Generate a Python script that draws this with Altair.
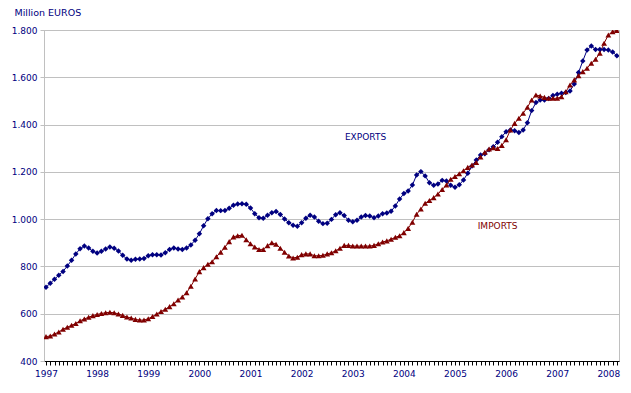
import altair as alt
import pandas as pd

first_year = 1997
years = list(range(1997, 2009))
y_ticks = [400, 600, 800, 1000, 1200, 1400, 1600, 1800]

exports = [
    712, 729, 746, 763, 779, 802, 826, 853, 875, 886, 878, 864,
    857, 864, 874, 882, 877, 865, 847, 831, 826, 830, 831, 834,
    845, 849, 849, 848, 858, 872, 878, 874, 872, 878, 891, 911,
    938, 972, 1002, 1023, 1037, 1036, 1037, 1046, 1059, 1064, 1065, 1063,
    1047, 1023, 1006, 1004, 1016, 1027, 1032, 1020, 1001, 985, 974, 970,
    985, 1004, 1016, 1009, 991, 981, 983, 999, 1019, 1027, 1015, 995,
    989, 995, 1009, 1015, 1013, 1006, 1013, 1023, 1026, 1033, 1056, 1085,
    1108, 1119, 1144, 1187, 1201, 1183, 1154, 1143, 1149, 1164, 1161, 1143,
    1135, 1145, 1166, 1194, 1225, 1250, 1271, 1277, 1293, 1306, 1325, 1349,
    1370, 1377, 1374, 1366, 1377, 1408, 1459, 1493, 1504, 1504, 1510, 1523,
    1528, 1533, 1536, 1542, 1572, 1620, 1669, 1715, 1732, 1718, 1718, 1718,
    1715, 1707, 1691,
]

imports = [
    503, 506, 514, 523, 534, 543, 551, 559, 570, 578, 585, 592,
    597, 601, 604, 606, 604, 599, 593, 586, 582, 576, 573, 573,
    579, 588, 599, 609, 619, 630, 642, 658, 671, 689, 716, 747,
    778, 795, 809, 820, 841, 860, 881, 905, 925, 930, 932, 913,
    896, 882, 872, 872, 888, 900, 894, 877, 860, 844, 836, 839,
    850, 853, 853, 845, 845, 847, 853, 858, 866, 877, 889, 889,
    886, 886, 886, 886, 886, 889, 896, 903, 908, 915, 923, 930,
    943, 961, 987, 1021, 1043, 1067, 1079, 1091, 1106, 1125, 1144, 1169,
    1180, 1192, 1205, 1219, 1229, 1240, 1263, 1283, 1297, 1302, 1299, 1312,
    1336, 1377, 1405, 1427, 1448, 1473, 1504, 1525, 1521, 1515, 1511, 1511,
    1511, 1518, 1539, 1567, 1589, 1607, 1624, 1638, 1659, 1676, 1702, 1744,
    1779, 1793, 1798,
]

series_names = ["EXPORTS", "IMPORTS"]
series_colors = ["#000080", "#800000"]
series_shapes = ["diamond", "triangle-up"]
series_sizes = [30, 34]

# series label annotations (month index, value)
label_pos = {"EXPORTS": (75, 1347), "IMPORTS": (106, 970)}

n = len(exports)
t = [first_year + i / 12 for i in range(n)]
df = pd.DataFrame({"t": t, "EXPORTS": exports, "IMPORTS": imports})
long = df.melt(id_vars="t", var_name="series", value_name="value")

lab = pd.DataFrame({
    "series": series_names,
    "t": [first_year + label_pos[s][0] / 12 for s in series_names],
    "value": [label_pos[s][1] for s in series_names],
})

month_ticks = [first_year + i / 12 for i in range(n)]
FONT = "DejaVu Sans"
NAVY = "#000080"

x_scale = alt.Scale(domain=[first_year - 0.47 / 12, first_year + 134.5 / 12], nice=False, zero=False)
y_scale = alt.Scale(domain=[400, 1800], nice=False, zero=False)
color_scale = alt.Scale(domain=series_names, range=series_colors)
shape_scale = alt.Scale(domain=series_names, range=series_shapes)
size_scale = alt.Scale(domain=series_names, range=series_sizes)

x_axis = alt.Axis(
    values=month_ticks,
    tickCount=500,
    labelExpr="abs(datum.value - round(datum.value)) < 0.01 ? format(round(datum.value), 'd') : ''",
    labelOverlap=False,
    labelBound=False,
    labelFlush=False,
    grid=False,
    domainColor="#000000",
    tickColor="#000000",
    tickSize=4,
    labelPadding=4,
    labelColor=NAVY,
    labelFont=FONT,
    labelFontSize=9,
    title=None,
)

y_axis = alt.Axis(
    values=y_ticks,
    labelExpr="replace(format(datum.value, ','), ',', '.')",
    grid=True,
    gridColor="#c0c0c0",
    domainColor="#c0c0c0",
    tickColor="#c0c0c0",
    tickSize=4,
    labelPadding=3,
    labelColor=NAVY,
    labelFont=FONT,
    labelFontSize=9,
    title="Million EUROS",
    titleAngle=0,
    titleX=-30,
    titleY=-15,
    titleAlign="left",
    titleBaseline="alphabetic",
    titleColor=NAVY,
    titleFont=FONT,
    titleFontSize=9.5,
    titleFontWeight="normal",
)

base = alt.Chart(long).encode(
    x=alt.X("t:Q", scale=x_scale, axis=x_axis),
    y=alt.Y("value:Q", scale=y_scale, axis=y_axis),
    color=alt.Color("series:N", scale=color_scale, legend=None),
)

lines = base.mark_line(strokeWidth=1, clip=True).encode(detail="series:N")
points = base.mark_point(filled=True, opacity=1, clip=True).encode(
    shape=alt.Shape("series:N", scale=shape_scale, legend=None),
    size=alt.Size("series:N", scale=size_scale, legend=None),
)

labels = alt.Chart(lab).mark_text(font=FONT, fontSize=9, align="center", baseline="middle").encode(
    x=alt.X("t:Q", scale=x_scale),
    y=alt.Y("value:Q", scale=y_scale),
    text="series:N",
    color=alt.Color("series:N", scale=color_scale, legend=None),
)

chart = (
    alt.layer(lines, points, labels)
    .properties(
        width=575,
        height=331,
        autosize=alt.AutoSizeParams(type="none"),
        padding={"left": 36, "top": 22, "right": 4, "bottom": 24},
        background="white",
    )
    .configure_view(stroke="#c0c0c0", strokeWidth=1)
)

chart.save("out.html", embed_options={"renderer": "svg", "actions": False})
